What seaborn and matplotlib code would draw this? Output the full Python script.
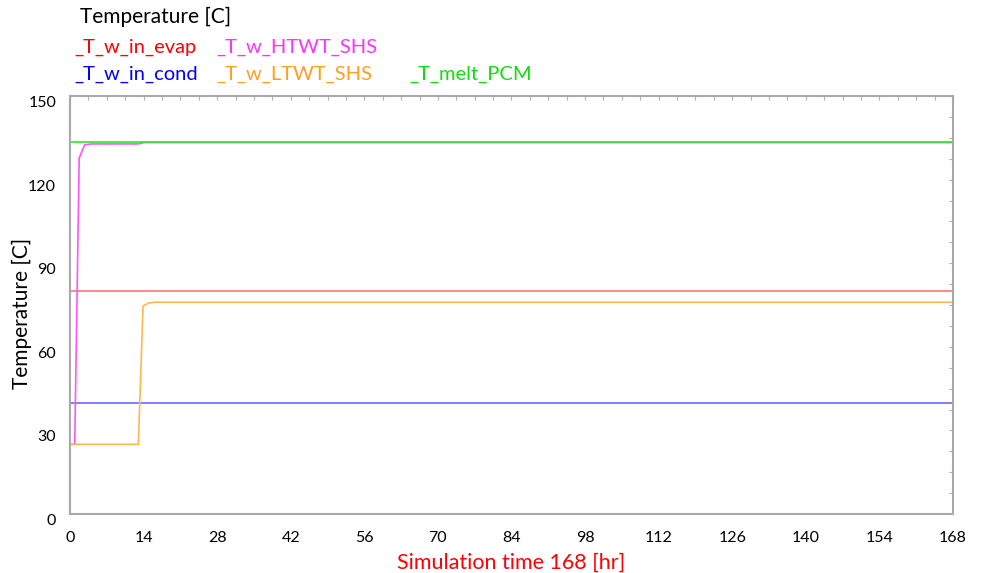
import matplotlib
matplotlib.use("Agg")
import matplotlib.pyplot as plt
from matplotlib.ticker import MultipleLocator
import pandas as pd
import seaborn as sns

# Simulated temperatures over one week [hr, C]
t_evap = [0, 168]
v_evap = [80, 80]

t_cond = [0, 168]
v_cond = [40, 40]

t_htwt = [0, 0.9, 1.75, 2.8, 4.0, 13.0, 14.0, 168]
v_htwt = [25, 25, 127.8, 132.5, 132.8, 132.8, 133.3, 133.3]

t_ltwt = [0, 13.0, 13.9, 14.9, 16.2, 168]
v_ltwt = [25, 25, 74.6, 75.7, 76.0, 76.0]

t_melt = [0, 168]
v_melt = [133.4, 133.4]

series_names = ["_T_w_in_evap", "_T_w_in_cond", "_T_w_HTWT_SHS", "_T_w_LTWT_SHS", "_T_melt_PCM"]
line_colors = ["#FF7575", "#6A6AFF", "#FF55FF", "#FFB84D", "#22EE22"]
text_colors = ["#FF0000", "#0000FF", "#FF33FF", "#FFA020", "#11DD11"]

x_ticks = list(range(0, 169, 14))
y_ticks = list(range(0, 151, 30))

frames = []
for name, ts, vs in zip(series_names,
                        [t_evap, t_cond, t_htwt, t_ltwt, t_melt],
                        [v_evap, v_cond, v_htwt, v_ltwt, v_melt]):
    frames.append(pd.DataFrame({"time": ts, "temp": vs, "series": name}))
df = pd.concat(frames, ignore_index=True)

sns.set_style("white")
plt.rcParams["font.family"] = ["Lato", "DejaVu Sans"]

fig = plt.figure(figsize=(9.81, 5.73), dpi=100)
ax = fig.add_axes([70 / 981, 1 - 514 / 573, 883 / 981, 418 / 573])

sns.lineplot(data=df, x="time", y="temp", hue="series", hue_order=series_names,
             palette=dict(zip(series_names, line_colors)), linewidth=1.2,
             legend=False, ax=ax, sort=False, estimator=None)

ax.set_xlim(0, 168)
ax.set_ylim(0, 150)
ax.set_xticks(x_ticks)
ax.set_yticks(y_ticks)
ax.xaxis.set_minor_locator(MultipleLocator(3.5))
ax.yaxis.set_minor_locator(MultipleLocator(7.5))
ax.tick_params(which="both", direction="in", length=3, width=0.8, color="#B0B0B0",
               top=True, right=True, labelsize=11.5, labelcolor="black")
ax.tick_params(axis="x", which="major", pad=12)
ax.tick_params(axis="y", which="major", pad=10)
for lab in ax.get_yticklabels():
    lab.set_verticalalignment("top")
for spine in ax.spines.values():
    spine.set_color("#A8A8A8")
    spine.set_linewidth(1.5)

ax.set_xlabel("Simulation time 168 [hr]", color="#FF0000", fontsize=15.5, labelpad=6)
ax.set_ylabel("Temperature [C]", color="black", fontsize=15)
ax.yaxis.set_label_coords(-38 / 883, 0.48)

# Header legend drawn as coloured text
fig.text(80 / 981, 1 - 17 / 573, "Temperature [C]", fontsize=15, color="black", va="center")
legend_pos = {
    "_T_w_in_evap": (74, 47),
    "_T_w_HTWT_SHS": (216, 47),
    "_T_w_in_cond": (74, 74),
    "_T_w_LTWT_SHS": (216, 74),
    "_T_melt_PCM": (409, 74),
}
for name, col in zip(series_names, text_colors):
    x, y = legend_pos[name]
    fig.text(x / 981, 1 - y / 573, name, fontsize=14.5, color=col, va="center")

fig.savefig("out.png", dpi=100)
